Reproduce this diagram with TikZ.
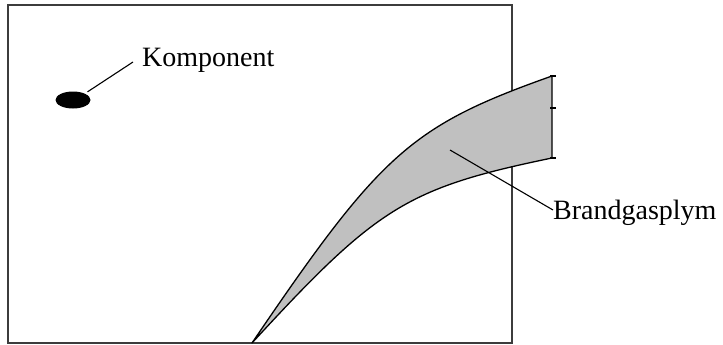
\documentclass[tikz,border=0pt]{standalone}
\usepackage{fontspec}
\setmainfont{Liberation Serif}
\usetikzlibrary{positioning,shapes.geometric}
\definecolor{PlumeGray}{RGB}{192,192,192}
\definecolor{FrameGray}{RGB}{60,60,60}

\begin{document}
\begin{tikzpicture}[
    x=1pt, y=-1pt,
    label text/.style={inner sep=0pt, anchor=west, font=\fontsize{28}{30}\selectfont},
    part/.style={ellipse, fill=black, minimum width=35pt, minimum height=17pt, inner sep=0pt},
    leader/.style={draw=black, line width=1.1pt},
    room/.style={draw=FrameGray, line width=2pt},
    plume/.style={draw=black, line width=1.3pt, fill=PlumeGray, line join=round},
]
\useasboundingbox (0,0) rectangle (723,345);
% room outline
\draw[room] (8,5) rectangle (512,343);

% smoke plume
\draw[plume] (252,343) .. controls (381,153) and (411,126) .. (552,76)
    -- (552,158)
    .. controls (407,188) and (377,207) .. (252,343) -- cycle;
\foreach \y in {76,108,158}
    \draw[line width=1.1pt] (550,\y) -- (556,\y);

% component and labels
\node[part] (comp) at (73,100) {};
\node[label text] (komp) at (142,60) {Komponent};
\draw[leader] (comp.north east) ++(2,-2) -- ([xshift=-9pt, yshift=-2pt]komp.west);

\coordinate (plumein) at (450,150);
\node[label text] (brand) at (553,213) {Brandgasplym};
\draw[leader] (plumein) -- ([yshift=3pt]brand.west);
\end{tikzpicture}
\end{document}
